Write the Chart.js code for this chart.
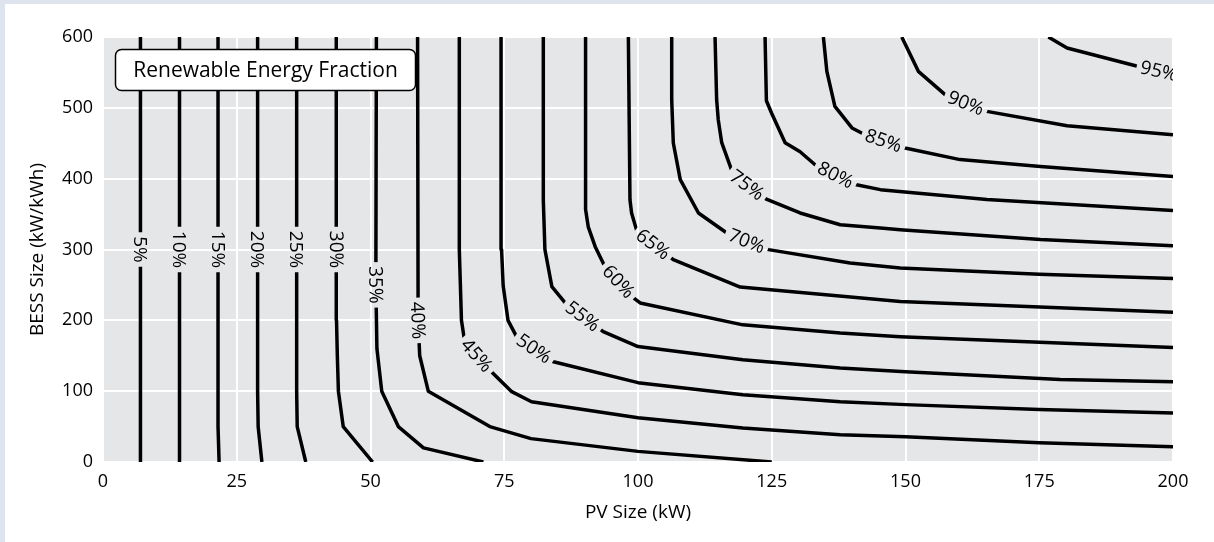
<!DOCTYPE html>
<html>
<head>
<meta charset="utf-8">
<script src="https://cdn.jsdelivr.net/npm/chart.js@4.4.1/dist/chart.umd.min.js"></script>
<style>
  html, body { margin: 0; padding: 0; }
  body { width: 1214px; height: 542px; position: relative; overflow: hidden; background: #dde4ee; }
  #panel { position: absolute; left: 5px; top: 4px; right: 0; bottom: 0; background: #ffffff; }
  #wrap { position: absolute; left: 0; top: 0; width: 1214px; height: 542px; }
</style>
</head>
<body>
<div id="panel"></div>
<div id="wrap"><canvas id="chart" width="1214" height="542"></canvas></div>
<script>
// contour levels (renewable energy fraction, %)
const levels = [5, 10, 15, 20, 25, 30, 35, 40, 45, 50, 55, 60, 65, 70, 75, 80, 85, 90, 95];

// contour paths, [PV kW, BESS kWh]
const c05 = [[7.0, 0], [7.0, 600]];
const c10 = [[14.3, 0], [14.3, 600]];
const c15 = [[21.7, 0], [21.5, 50], [21.5, 600]];
const c20 = [[29.7, 0], [29.0, 50], [28.9, 100], [28.9, 600]];
const c25 = [[37.9, 0], [36.3, 50], [36.2, 100], [36.2, 600]];
const c30 = [[50.4, 0], [44.9, 50], [44.0, 100], [43.8, 150], [43.65, 200], [43.6, 600]];
const c35 = [[71.1, 0], [59.9, 20], [55.2, 50], [52.1, 100], [51.2, 160], [51.0, 250], [51.1, 600]];
const c40 = [[125, 0], [100, 15], [80, 33], [72.3, 50], [60.8, 100], [59.2, 150], [58.9, 200], [58.8, 600]];
const c45 = [[200, 21.6], [175, 27.2], [150, 35.7], [137.8, 38.5], [119.6, 48], [100, 62.5], [80.1, 85.1], [76.4, 99.3], [72.6, 127.5], [67.6, 170], [67.0, 200], [66.8, 250], [66.6, 300], [66.6, 600]];
const c50 = [[200, 69], [175, 74], [150, 81], [137.8, 85], [119.6, 95], [100, 112], [84.2, 141.6], [77.3, 177], [75.7, 200], [74.8, 248.7], [74.5, 300], [74.4, 600]];
const c55 = [[200, 113.3], [178.9, 116.4], [150, 127.5], [137.8, 132.7], [119.6, 144.4], [100, 163], [93.5, 184], [86.35, 225], [83.9, 247.5], [82.6, 300], [82.3, 370], [82.3, 600]];
const c60 = [[200, 161.5], [149, 176.9], [137.8, 182], [119.6, 193.6], [100.4, 224.5], [99.4, 230.3], [93.8, 276], [92.0, 304], [90.7, 332], [90.2, 356.5], [90.2, 600]];
const c65 = [[200, 211.5], [149, 226.7], [119.1, 247], [106.6, 285.6], [99.8, 325.6], [98.8, 351.6], [98.5, 370.3], [98.2, 600]];
const c70 = [[200, 259], [175, 265], [149, 273.9], [139.65, 281], [124.4, 299.8], [116.6, 323.3], [111.3, 351.5], [107.9, 398.6], [106.6, 450.4], [106.3, 511.5], [106.3, 600]];
const c75 = [[200, 305.4], [175.2, 314], [149, 328], [145.3, 330.4], [137.8, 335], [130.3, 351.6], [124.1, 370.6], [117.8, 405.6], [115.65, 450.8], [115.0, 483.3], [114.7, 511.5], [114.4, 600]];
const c80 = [[200, 355], [165.2, 370.6], [145.3, 384.5], [140.6, 391.8], [133.1, 419.7], [130.3, 438], [127.5, 450.8], [125, 492], [124.0, 510], [123.75, 600]];
const c85 = [[200, 403], [175.2, 417.3], [160.2, 426.9], [149.9, 443.3], [141.8, 464.5], [140, 471.6], [136.8, 502], [135.3, 551.5], [134.65, 600]];
const c90 = [[200, 462], [180.2, 474.8], [165.2, 495], [157.4, 518.6], [152.4, 551.5], [149.3, 600]];
const c95 = [[200, 548], [193, 559.5], [180.2, 584.5], [176.7, 600]];

const contours = [c05, c10, c15, c20, c25, c30, c35, c40, c45, c50, c55, c60, c65, c70, c75, c80, c85, c90, c95];

// where each inline label sits (data coords, snapped onto its path)
const labelAt = [
  [7.0, 300], [14.3, 300], [21.5, 300], [28.9, 300], [36.2, 300], [43.6, 300],
  [51.0, 250], [58.9, 200], [69.5, 148], [80.4, 158], [89.5, 204], [96.1, 253],
  [102.6, 305], [120, 306], [120, 387], [136.8, 403], [145.8, 452], [161.2, 505], [197.4, 553]
];

const fontFamily = '"Open Sans", "DejaVu Sans", sans-serif';
const labelFont = `19px ${fontFamily}`;

function placeLabel(chart, i) {
  const xs = chart.scales.x;
  const ys = chart.scales.y;
  const pts = contours[i].map(([x, y]) => [xs.getPixelForValue(x), ys.getPixelForValue(y)]);
  const px = xs.getPixelForValue(labelAt[i][0]);
  const py = ys.getPixelForValue(labelAt[i][1]);
  let best = null;
  for (let k = 0; k < pts.length - 1; k++) {
    const [x1, y1] = pts[k];
    const [x2, y2] = pts[k + 1];
    const dx = x2 - x1, dy = y2 - y1;
    const len2 = dx * dx + dy * dy;
    let t = len2 ? ((px - x1) * dx + (py - y1) * dy) / len2 : 0;
    t = Math.max(0, Math.min(1, t));
    const qx = x1 + t * dx, qy = y1 + t * dy;
    const d = (qx - px) ** 2 + (qy - py) ** 2;
    if (!best || d < best.d) best = { d, x: qx, y: qy, angle: Math.atan2(dy, dx) };
  }
  let a = best.angle;
  if (a > Math.PI / 2 + 1e-6) a -= Math.PI;
  if (a <= -Math.PI / 2 + 1e-6) a += Math.PI;
  return { x: best.x, y: best.y, angle: a };
}

const plotBackground = {
  id: 'plotBackground',
  beforeDraw(chart) {
    const { ctx, chartArea: a } = chart;
    ctx.save();
    ctx.fillStyle = '#e5e6e8';
    ctx.fillRect(a.left, a.top, a.width, a.height);
    ctx.restore();
  }
};

// cut gaps into the lines where the labels go, then write the labels
const contourLabels = {
  id: 'contourLabels',
  beforeDatasetsDraw(chart) {
    const { ctx, chartArea: a } = chart;
    ctx.save();
    ctx.font = labelFont;
    chart.$labels = levels.map((lv, i) => {
      const p = placeLabel(chart, i);
      p.text = `${lv}%`;
      p.w = ctx.measureText(p.text).width;
      return p;
    });
    ctx.beginPath();
    ctx.rect(a.left, a.top, a.width, a.height);
    chart.$labels.forEach((p) => {
      const hw = p.w / 2 + 4;
      const hh = 8;
      const c = Math.cos(p.angle), s = Math.sin(p.angle);
      const corners = [[-hw, -hh], [hw, -hh], [hw, hh], [-hw, hh]]
        .map(([u, v]) => [p.x + u * c - v * s, p.y + u * s + v * c]);
      ctx.moveTo(corners[0][0], corners[0][1]);
      corners.slice(1).forEach((q) => ctx.lineTo(q[0], q[1]));
      ctx.closePath();
    });
    ctx.clip('evenodd');
  },
  afterDatasetsDraw(chart) {
    const { ctx, chartArea: a } = chart;
    ctx.restore();
    ctx.save();
    ctx.beginPath();
    ctx.rect(a.left, a.top, a.width, a.height);
    ctx.clip();
    ctx.font = labelFont;
    ctx.fillStyle = '#000';
    ctx.textAlign = 'center';
    ctx.textBaseline = 'middle';
    chart.$labels.forEach((p) => {
      ctx.save();
      ctx.translate(p.x, p.y);
      ctx.rotate(p.angle);
      ctx.fillText(p.text, 0, 1);
      ctx.restore();
    });
    ctx.restore();
  }
};

const titleBox = {
  id: 'titleBox',
  afterDraw(chart) {
    const { ctx, chartArea: a } = chart;
    const x = a.left + 12.5, y = a.top + 12.5, w = 300, h = 41;
    ctx.save();
    ctx.beginPath();
    ctx.roundRect(x, y, w, h, 6);
    ctx.fillStyle = '#ffffff';
    ctx.fill();
    ctx.lineWidth = 1.5;
    ctx.strokeStyle = '#000';
    ctx.stroke();
    ctx.font = `21px ${fontFamily}`;
    ctx.fillStyle = '#000';
    ctx.textAlign = 'center';
    ctx.textBaseline = 'middle';
    ctx.fillText('Renewable Energy Fraction', x + w / 2, y + h / 2 + 1);
    ctx.restore();
  }
};

const tickFont = { family: fontFamily, size: 18 };
const titleFont = { family: fontFamily, size: 19 };

new Chart(document.getElementById('chart'), {
  type: 'scatter',
  data: {
    datasets: levels.map((lv, i) => ({
      label: `${lv}%`,
      data: contours[i].map(([x, y]) => ({ x, y })),
      showLine: true,
      borderColor: '#000',
      borderWidth: 3.5,
      borderJoinStyle: 'round',
      pointRadius: 0,
      pointHoverRadius: 0,
      fill: false,
      tension: 0
    }))
  },
  options: {
    responsive: false,
    animation: false,
    devicePixelRatio: 1,
    layout: { padding: { left: 0, top: 37, right: 41, bottom: 0 } },
    plugins: { legend: { display: false }, tooltip: { enabled: false } },
    scales: {
      x: {
        type: 'linear',
        min: 0,
        max: 200,
        ticks: { stepSize: 25, color: '#000', font: tickFont, padding: 9, maxRotation: 0 },
        grid: { color: '#ffffff', lineWidth: 2, drawTicks: false },
        border: { display: false },
        title: { display: true, text: 'PV Size (kW)', color: '#000', font: titleFont, padding: { top: 0, bottom: 18 } },
        afterFit(scale) { scale.height = 80; }
      },
      y: {
        type: 'linear',
        min: 0,
        max: 600,
        ticks: { stepSize: 100, color: '#000', font: tickFont, padding: 10 },
        grid: { color: '#ffffff', lineWidth: 2, drawTicks: false },
        border: { display: false },
        title: { display: true, text: 'BESS Size (kW/kWh)', color: '#000', font: titleFont, padding: { top: 26, bottom: 0 } },
        afterFit(scale) { scale.width = 103; }
      }
    }
  },
  plugins: [plotBackground, contourLabels, titleBox]
});
</script>
</body>
</html>
